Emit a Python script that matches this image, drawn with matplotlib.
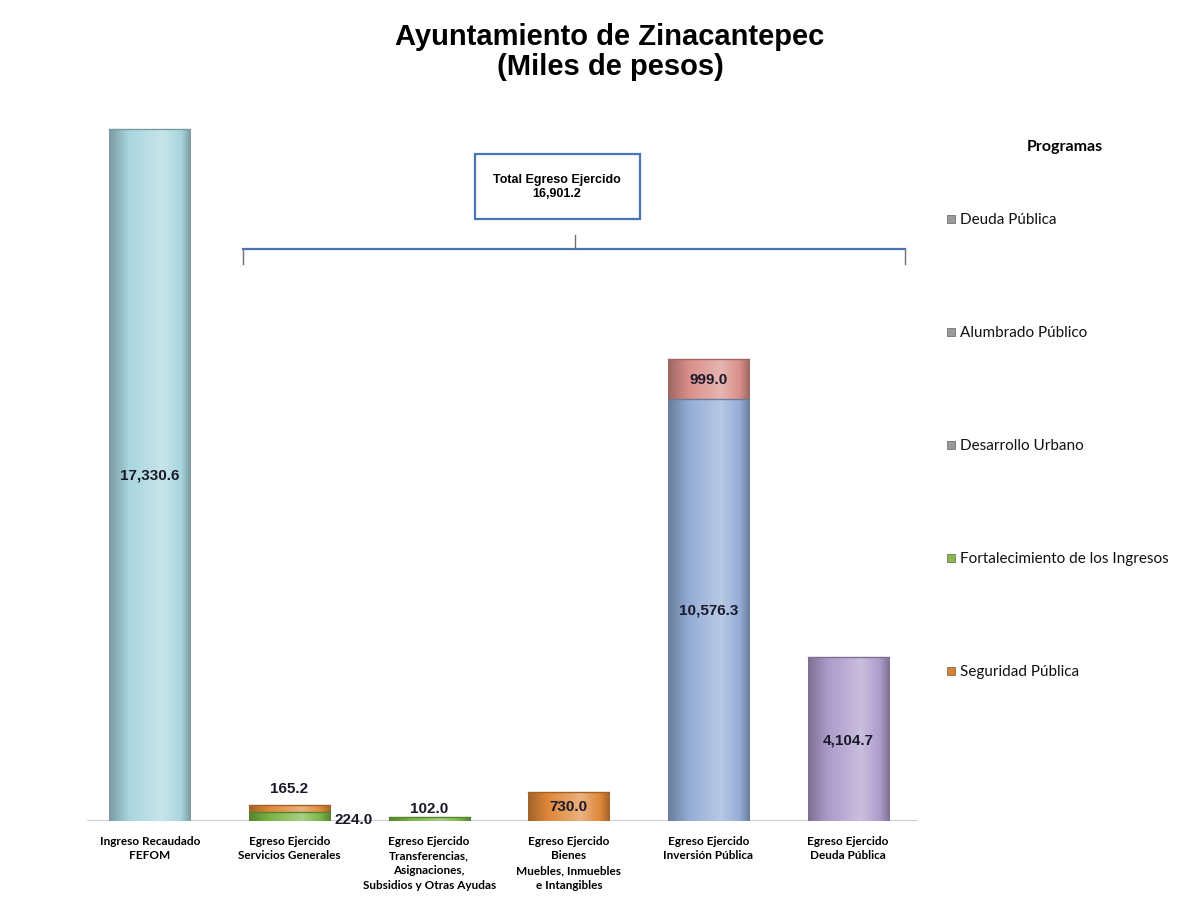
import numpy as np
import matplotlib
matplotlib.use("Agg")
import matplotlib.pyplot as plt
from matplotlib.colors import LinearSegmentedColormap, to_rgb
from matplotlib.patches import Rectangle

# ---------------- data ----------------
categories = [
    "Ingreso Recaudado\nFEFOM",
    "Egreso Ejercido\nServicios Generales",
    "Egreso Ejercido\nTransferencias,\nAsignaciones,\nSubsidios y Otras Ayudas",
    "Egreso Ejercido\nBienes\nMuebles, Inmuebles\ne Intangibles",
    "Egreso Ejercido\nInversión Pública",
    "Egreso Ejercido\nDeuda Pública",
]
ingreso = [17330.6, 0, 0, 0, 0, 0]
fortalecimiento = [0, 224.0, 102.0, 0, 0, 0]
seguridad = [0, 165.2, 0, 730.0, 0, 0]
desarrollo = [0, 0, 0, 0, 10576.3, 0]
alumbrado = [0, 0, 0, 0, 999.0, 0]
deuda = [0, 0, 0, 0, 0, 4104.7]
total_egreso = 16901.2

legend_names = ["Deuda Pública", "Alumbrado Público", "Desarrollo Urbano",
                "Fortalecimiento de los Ingresos", "Seguridad Pública"]
legend_marker_colors = ["#9a9a9a", "#9a9a9a", "#9a9a9a", "#8cb84a", "#d9822b"]

# ---------------- figure ----------------
W, H = 1204, 903
fig = plt.figure(figsize=(W / 100, H / 100), dpi=100)
fig.patch.set_facecolor("white")

def fx(px):
    return px / W

def fy(py):
    return 1 - py / H

ax_left, ax_right, ax_top, ax_bottom = 80, 918, 110, 822
ax = fig.add_axes([fx(ax_left), fy(ax_bottom), fx(ax_right - ax_left), (ax_bottom - ax_top) / H])
for s in ax.spines.values():
    s.set_visible(False)
ax.set_yticks([])
ax.tick_params(axis="x", length=0, pad=10)
ax.set_xticks(range(len(categories)))
ax.set_xticklabels(categories, fontsize=8.5, fontweight="bold", family=["Lato", "DejaVu Sans"],
                   linespacing=1.4, va="top")
ax.axhline(0, color="#d0d0d0", lw=1.5, xmin=0.01, zorder=1)

x = np.arange(len(categories))
width = 0.58

def shaded_bars(vals, bottom, base):
    bars = ax.bar(x, vals, width, bottom=bottom, color=base, edgecolor="none", zorder=2)
    r, g, b = to_rgb(base)
    dark = tuple(c * 0.72 for c in (r, g, b))
    light = tuple(min(1, c + (1 - c) * 0.35) for c in (r, g, b))
    cmap = LinearSegmentedColormap.from_list("g", [(0, dark), (0.25, base), (0.65, light),
                                                  (0.88, base), (1, dark)])
    grad = np.linspace(0, 1, 256).reshape(1, -1)
    for p, v in zip(bars.patches, vals):
        if v <= 0:
            continue
        x0, y0 = p.get_x(), p.get_y()
        im = ax.imshow(grad, cmap=cmap, aspect="auto", zorder=3,
                       extent=[x0, x0 + p.get_width(), y0, y0 + p.get_height()])
        im.set_clip_path(p)
        ax.plot([x0, x0 + p.get_width()], [y0 + p.get_height()] * 2, color=dark, lw=1, zorder=4)
    return bars

bottom = np.zeros(len(categories))
shaded_bars(ingreso, bottom, "#a9d6df"); bottom += np.array(ingreso)
shaded_bars(fortalecimiento, bottom, "#79b444"); bottom += np.array(fortalecimiento)
shaded_bars(seguridad, bottom, "#e0883a"); bottom += np.array(seguridad)
shaded_bars(desarrollo, bottom, "#93acd6"); bottom += np.array(desarrollo)
shaded_bars(alumbrado, bottom, "#d98e88"); bottom += np.array(alumbrado)
shaded_bars(deuda, bottom, "#ad9ccc"); bottom += np.array(deuda)
ax.set_xlim(-0.5, len(categories) - 0.5)
ax.set_ylim(0, 17830)

lbl = dict(fontsize=11, fontweight="bold", family=["Liberation Sans Narrow", "Liberation Sans", "DejaVu Sans"],
           color="#1a1a2a", zorder=6)
ax.text(0, ingreso[0] / 2, f"{ingreso[0]:,.1f}", ha="center", va="center", **lbl)
ax.text(3, seguridad[3] / 2, f"{seguridad[3]:,.1f}", ha="center", va="center", **lbl)
ax.text(4, desarrollo[4] / 2, f"{desarrollo[4]:,.1f}", ha="center", va="center", **lbl)
ax.text(4, desarrollo[4] + alumbrado[4] / 2, f"{alumbrado[4]:,.1f}", ha="center", va="center", **lbl)
ax.text(5, deuda[5] / 2, f"{deuda[5]:,.1f}", ha="center", va="center", **lbl)
ax.text(1, fortalecimiento[1] + seguridad[1] + 250, f"{seguridad[1]:,.1f}", ha="center", va="bottom", **lbl)
ax.text(1 + width / 2 + 0.03, fortalecimiento[1] / 2 - 60, f"{fortalecimiento[1]:,.1f}", ha="left", va="center", **lbl)
ax.text(2, fortalecimiento[2] + 60, f"{fortalecimiento[2]:,.1f}", ha="center", va="bottom", **lbl)

# ---------------- title ----------------
fig.text(fx(610), fy(52), "Ayuntamiento de Zinacantepec\n(Miles de pesos)", ha="center", va="center",
         fontsize=21, fontweight="bold", family=["Liberation Sans", "DejaVu Sans"], linespacing=1.1)

# ---------------- total box and bracket ----------------
box = Rectangle((fx(475), fy(220)), fx(640) - fx(475), fy(155) - fy(220), transform=fig.transFigure,
                facecolor="white", edgecolor="#4a74b8", lw=1.6)
fig.patches.append(box)
fig.text(fx(557), fy(187), f"Total Egreso Ejercido\n{total_egreso:,.1f}", ha="center", va="center",
         fontsize=9, fontweight="bold", family=["Liberation Sans Narrow", "Liberation Sans", "DejaVu Sans"],
         linespacing=1.3)
line_kw = dict(transform=fig.transFigure, color="#4a74b8", lw=1.6)
fig.add_artist(plt.Line2D([fx(243), fx(905)], [fy(250), fy(250)], **line_kw))
gray_kw = dict(transform=fig.transFigure, color="#707070", lw=1.0)
fig.add_artist(plt.Line2D([fx(243), fx(243)], [fy(250), fy(265)], **gray_kw))
fig.add_artist(plt.Line2D([fx(905), fx(905)], [fy(250), fy(265)], **gray_kw))
fig.add_artist(plt.Line2D([fx(575), fx(575)], [fy(236), fy(250)], **gray_kw))

# ---------------- legend ----------------
fig.text(fx(1065), fy(147), "Programas", ha="center", va="center", fontsize=11.5, fontweight="bold",
         family=["Lato", "DejaVu Sans"])
for i, (name, mc) in enumerate(zip(legend_names, legend_marker_colors)):
    yy = 220 + i * 113
    sq = Rectangle((fx(947), fy(yy + 4)), fx(8), 8 / H, transform=fig.transFigure,
                   facecolor=mc, edgecolor="#606060", lw=0.5)
    fig.patches.append(sq)
    fig.text(fx(960), fy(yy), name, ha="left", va="center", fontsize=11,
             family=["Lato", "DejaVu Sans"], color="#111111")

fig.savefig("out.png", dpi=100, facecolor="white")
